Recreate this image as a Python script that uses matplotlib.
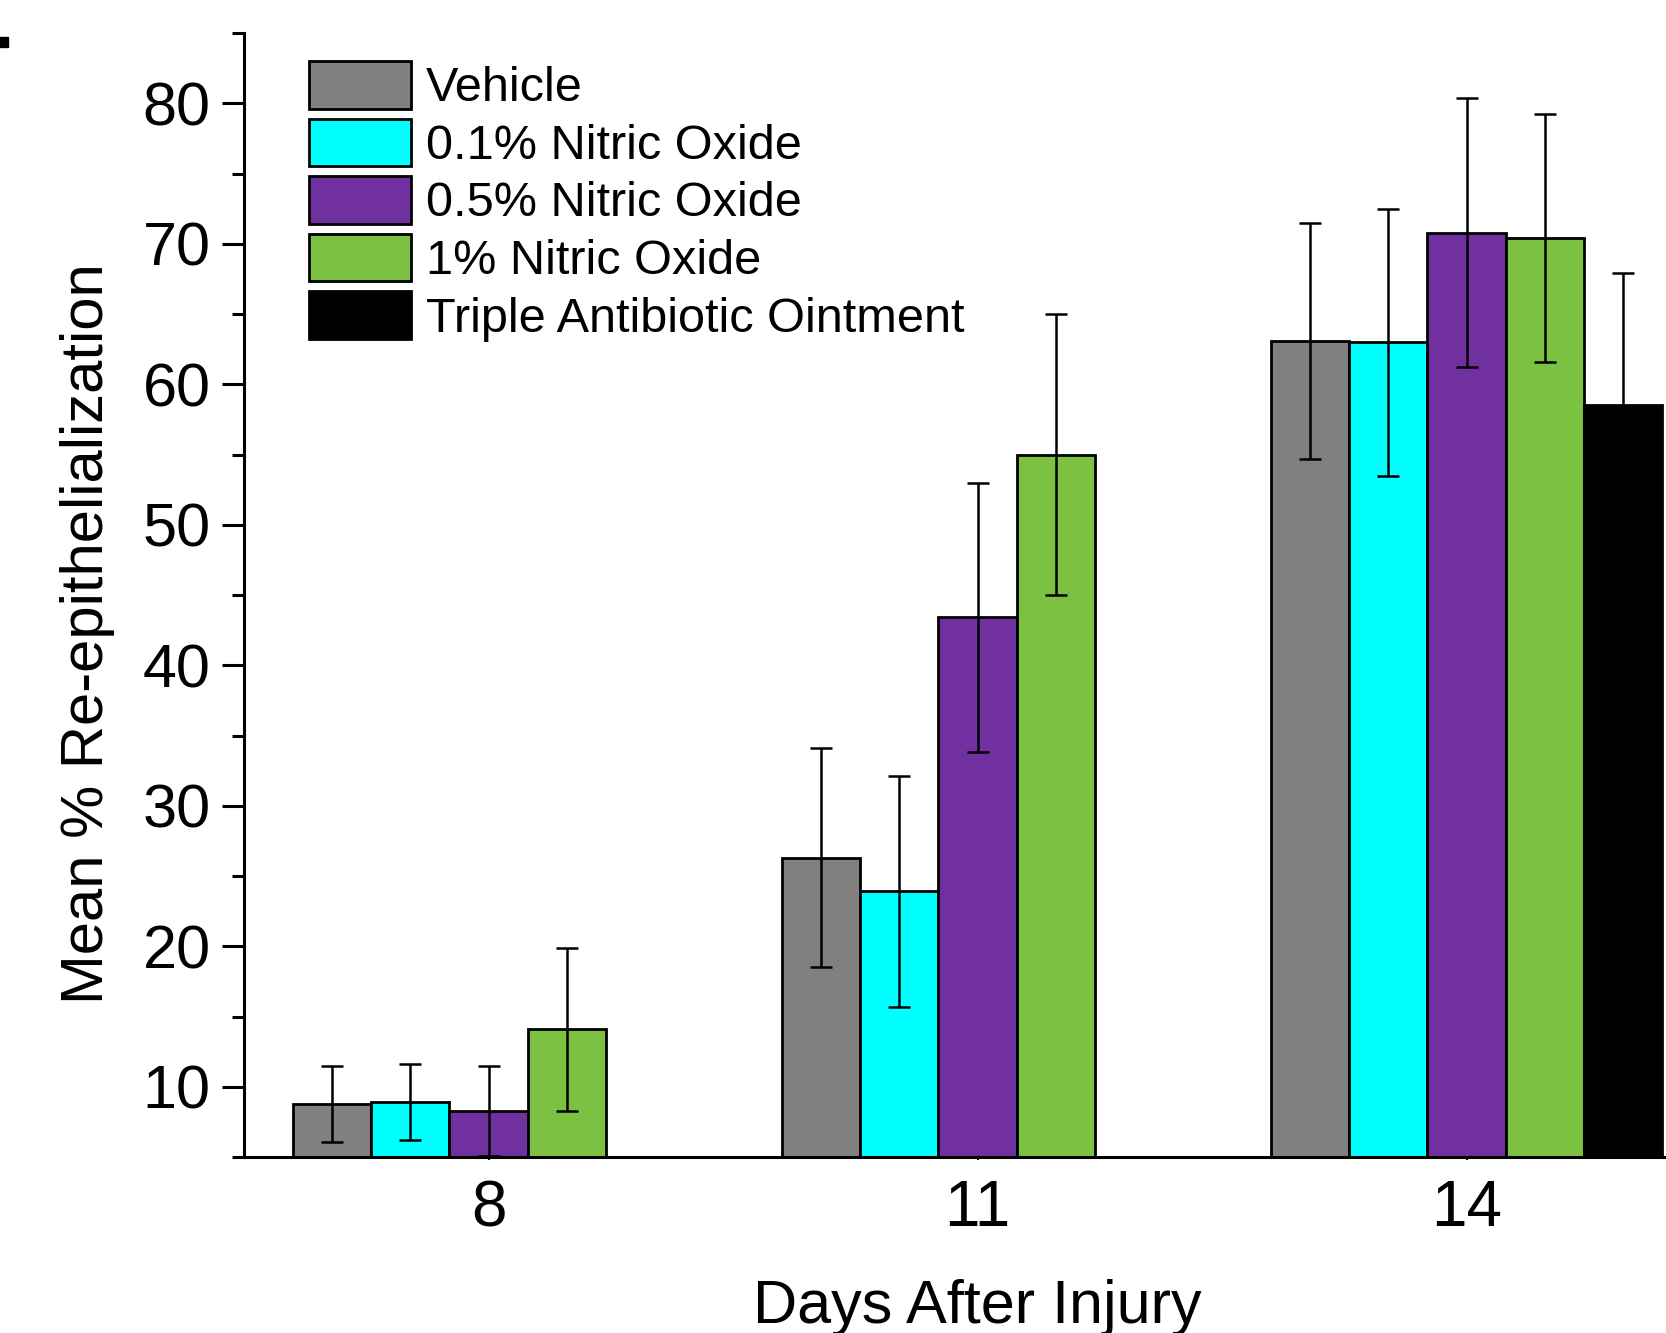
import numpy as np
import matplotlib
matplotlib.use("Agg")
import matplotlib.pyplot as plt
from matplotlib.patches import Rectangle

plt.rcParams["font.family"] = ["Liberation Sans", "DejaVu Sans"]

days = [8, 11, 14]
groups = ["Vehicle", "0.1% Nitric Oxide", "0.5% Nitric Oxide", "1% Nitric Oxide",
          "Triple Antibiotic Ointment"]
colors = ["#808080", "#00FFFF", "#7030A0", "#7CC142", "#000000"]

vehicle = [8.8, 26.3, 63.1]
vehicle_err = [2.7, 7.8, 8.4]
no_01 = [8.9, 23.9, 63.0]
no_01_err = [2.7, 8.2, 9.5]
no_05 = [8.3, 43.4, 70.8]
no_05_err = [3.2, 9.6, 9.6]
no_1 = [14.1, 55.0, 70.4]
no_1_err = [5.8, 10.0, 8.8]
tao = [np.nan, np.nan, 58.5]
tao_err = [np.nan, np.nan, 9.4]

means = [vehicle, no_01, no_05, no_1, tao]
errors = [vehicle_err, no_01_err, no_05_err, no_1_err, tao_err]

W, H = 1666, 1333
fig = plt.figure(figsize=(W / 100, H / 100), dpi=100)
# plot area runs past the right edge, as in the cropped original
ax = fig.add_axes([244 / W, 176 / H, 9 * 163 / W, 1124 / H])

bar_w = 0.48
x = np.array(days, dtype=float)
for i, (m, e, c, name) in enumerate(zip(means, errors, colors, groups)):
    pos = x + (i - 2) * bar_w
    ax.bar(pos, m, width=bar_w, bottom=0, color=c, edgecolor="black",
           linewidth=2.0, label=name, zorder=2)
    ax.errorbar(pos, m, yerr=e, fmt="none", ecolor="black", elinewidth=1.8,
                capsize=8, capthick=1.8, zorder=3)

ax.set_xlim(6.5, 15.5)
ax.set_ylim(5, 85)
ax.set_xticks(days)
ax.set_xticklabels([str(d) for d in days])
ax.set_yticks(np.arange(10, 81, 10))
ax.set_yticks(np.arange(5, 86, 10), minor=True)

for side in ["top", "right"]:
    ax.spines[side].set_visible(False)
for side in ["left", "bottom"]:
    ax.spines[side].set_linewidth(2.2)

ax.tick_params(axis="y", which="major", direction="out", length=16, width=2.2,
               labelsize=44, pad=8)
ax.tick_params(axis="y", which="minor", direction="out", length=9, width=2.2)
ax.tick_params(axis="x", which="major", direction="out", length=2, width=1.5,
               labelsize=46, pad=14)

ax.set_xlabel("Days After Injury", fontsize=44)
ax.xaxis.set_label_coords(0.5, -(1323 - 1157) / 1124)
ax.xaxis.label.set_va("baseline")
fig.text(88 / W, 1 - 634 / H, "Mean % Re-epithelialization", fontsize=43,
         rotation=90, ha="center", va="center")

ax.legend(loc="upper left", bbox_to_anchor=(309 / W, 1 - 61 / H),
          bbox_transform=fig.transFigure, frameon=False, fontsize=35,
          handlelength=2.1, handleheight=1.13, handletextpad=0.3,
          labelspacing=0.15, borderpad=0, borderaxespad=0)

# leftover corner of the panel letter
fig.patches.append(Rectangle((0, 1 - 47 / H), 8 / W, 10 / H,
                             transform=fig.transFigure, color="black"))

fig.savefig("out.png", dpi=100)
